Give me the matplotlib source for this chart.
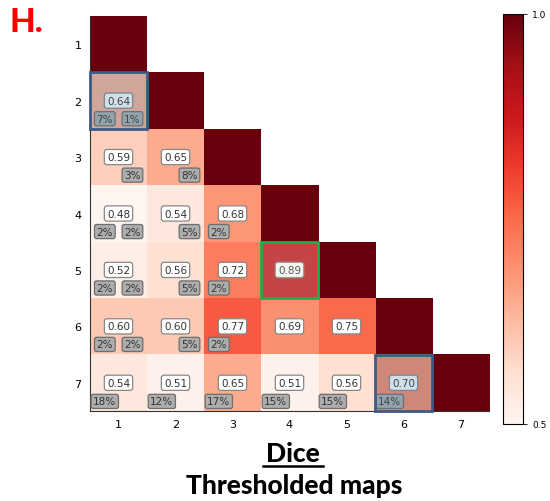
import numpy as np
import matplotlib
matplotlib.use("Agg")
import matplotlib.pyplot as plt
from matplotlib.patches import Rectangle
from matplotlib.lines import Line2D

labels = [1, 2, 3, 4, 5, 6, 7]

# lower triangle dice values (row, col) -> value ; diagonal = 1
dice_rows = [
    [1.0],
    [0.64, 1.0],
    [0.59, 0.65, 1.0],
    [0.48, 0.54, 0.68, 1.0],
    [0.52, 0.56, 0.72, 0.89, 1.0],
    [0.60, 0.60, 0.77, 0.69, 0.75, 1.0],
    [0.54, 0.51, 0.65, 0.51, 0.56, 0.70, 1.0],
]

# percentage badges: (row, col, side, text)
badges = [
    (2, 1, "L", "7%"), (2, 1, "R", "1%"),
    (3, 1, "R", "3%"), (3, 2, "R", "8%"),
    (4, 1, "L", "2%"), (4, 1, "R", "2%"), (4, 2, "R", "5%"), (4, 3, "L", "2%"),
    (5, 1, "L", "2%"), (5, 1, "R", "2%"), (5, 2, "R", "5%"), (5, 3, "L", "2%"),
    (6, 1, "L", "2%"), (6, 1, "R", "2%"), (6, 2, "R", "5%"), (6, 3, "L", "2%"),
    (7, 1, "L", "18%"), (7, 2, "L", "12%"), (7, 3, "L", "17%"),
    (7, 4, "L", "15%"), (7, 5, "L", "15%"), (7, 6, "L", "14%"),
]

blue_cells = [(2, 1), (7, 6)]
green_cells = [(5, 4)]

n = len(labels)
M = np.full((n, n), np.nan)
for i, row in enumerate(dice_rows):
    for j, v in enumerate(row):
        M[i, j] = v
M = np.ma.masked_invalid(M)

fig = plt.figure(figsize=(5.5, 5.02), dpi=100)
ax = fig.add_axes([90 / 550, 1 - 412 / 502, 399 / 550, 395 / 502])
im = ax.imshow(M, cmap="Reds", vmin=0.5, vmax=1.0, aspect="auto",
               extent=[0.5, n + 0.5, n + 0.5, 0.5], interpolation="nearest")
ax.set_xlim(0.5, n + 0.5)
ax.set_ylim(n + 0.5, 0.5)
ax.set_xticks(labels)
ax.set_yticks(labels)
ax.tick_params(length=0, labelsize=8, pad=6)
ax.spines["top"].set_visible(False)
ax.spines["right"].set_visible(False)
for s in ["left", "bottom"]:
    ax.spines[s].set_color("#333333")
    ax.spines[s].set_linewidth(0.8)

# value labels
for i, row in enumerate(dice_rows):
    for j, v in enumerate(row):
        if i == j:
            continue
        ax.text(j + 1, i + 1, "%.2f" % v, ha="center", va="center", fontsize=7.5,
                color="#333333",
                bbox=dict(boxstyle="round,pad=0.25", fc="white", ec="#888888", lw=0.9))

# badges
for r, c, side, t in badges:
    if r == 7:
        x = c - 0.24
        y = r + 0.33
    else:
        x = c - 0.24 if side == "L" else c + 0.245
        y = r + 0.32
    ax.text(x, y, t, ha="center", va="center", fontsize=7.5, color="#333333",
            bbox=dict(boxstyle="round,pad=0.2", fc="#adadad", ec="#6e6e6e", lw=0.9))

# highlight boxes
for r, c in blue_cells:
    ax.add_patch(Rectangle((c - 0.5, r - 0.5), 1, 1, fc="#4d82a8", alpha=0.25,
                           ec="none", zorder=5, clip_on=False))
    ax.add_patch(Rectangle((c - 0.5, r - 0.5), 1, 1, fc="none", ec="#3b5a86",
                           lw=2, zorder=6, clip_on=False))
for r, c in green_cells:
    ax.add_patch(Rectangle((c - 0.5, r - 0.5), 1, 1, fc="#d0d8c8", alpha=0.25,
                           ec="none", zorder=5, clip_on=False))
    ax.add_patch(Rectangle((c - 0.5, r - 0.5), 1, 1, fc="none", ec="#1fae4a",
                           lw=2, zorder=6, clip_on=False))

# colorbar
cax = fig.add_axes([503 / 550, 1 - 425 / 502, 20 / 550, 410 / 502])
cb = fig.colorbar(im, cax=cax, ticks=[0.5, 1.0])
cb.ax.tick_params(labelsize=6.5, length=3, width=0.6)
cb.outline.set_linewidth(0.8)

# panel letter and titles
fig.text(9 / 550, 1 - 22 / 502, "H.", color="red", fontsize=24, fontweight="black",
         va="center", ha="left", family="Lato")
fig.text(293 / 550, 1 - 454 / 502, "Dice", fontsize=19, fontweight="black",
         ha="center", va="center", family="Lato")
fig.add_artist(Line2D([263 / 550, 323 / 550], [1 - 467 / 502, 1 - 467 / 502],
                      color="black", lw=1.8))
fig.text(294 / 550, 1 - 486 / 502, "Thresholded maps", fontsize=19, fontweight="black",
         ha="center", va="center", family="Lato")

fig.savefig("out.png", dpi=100)
